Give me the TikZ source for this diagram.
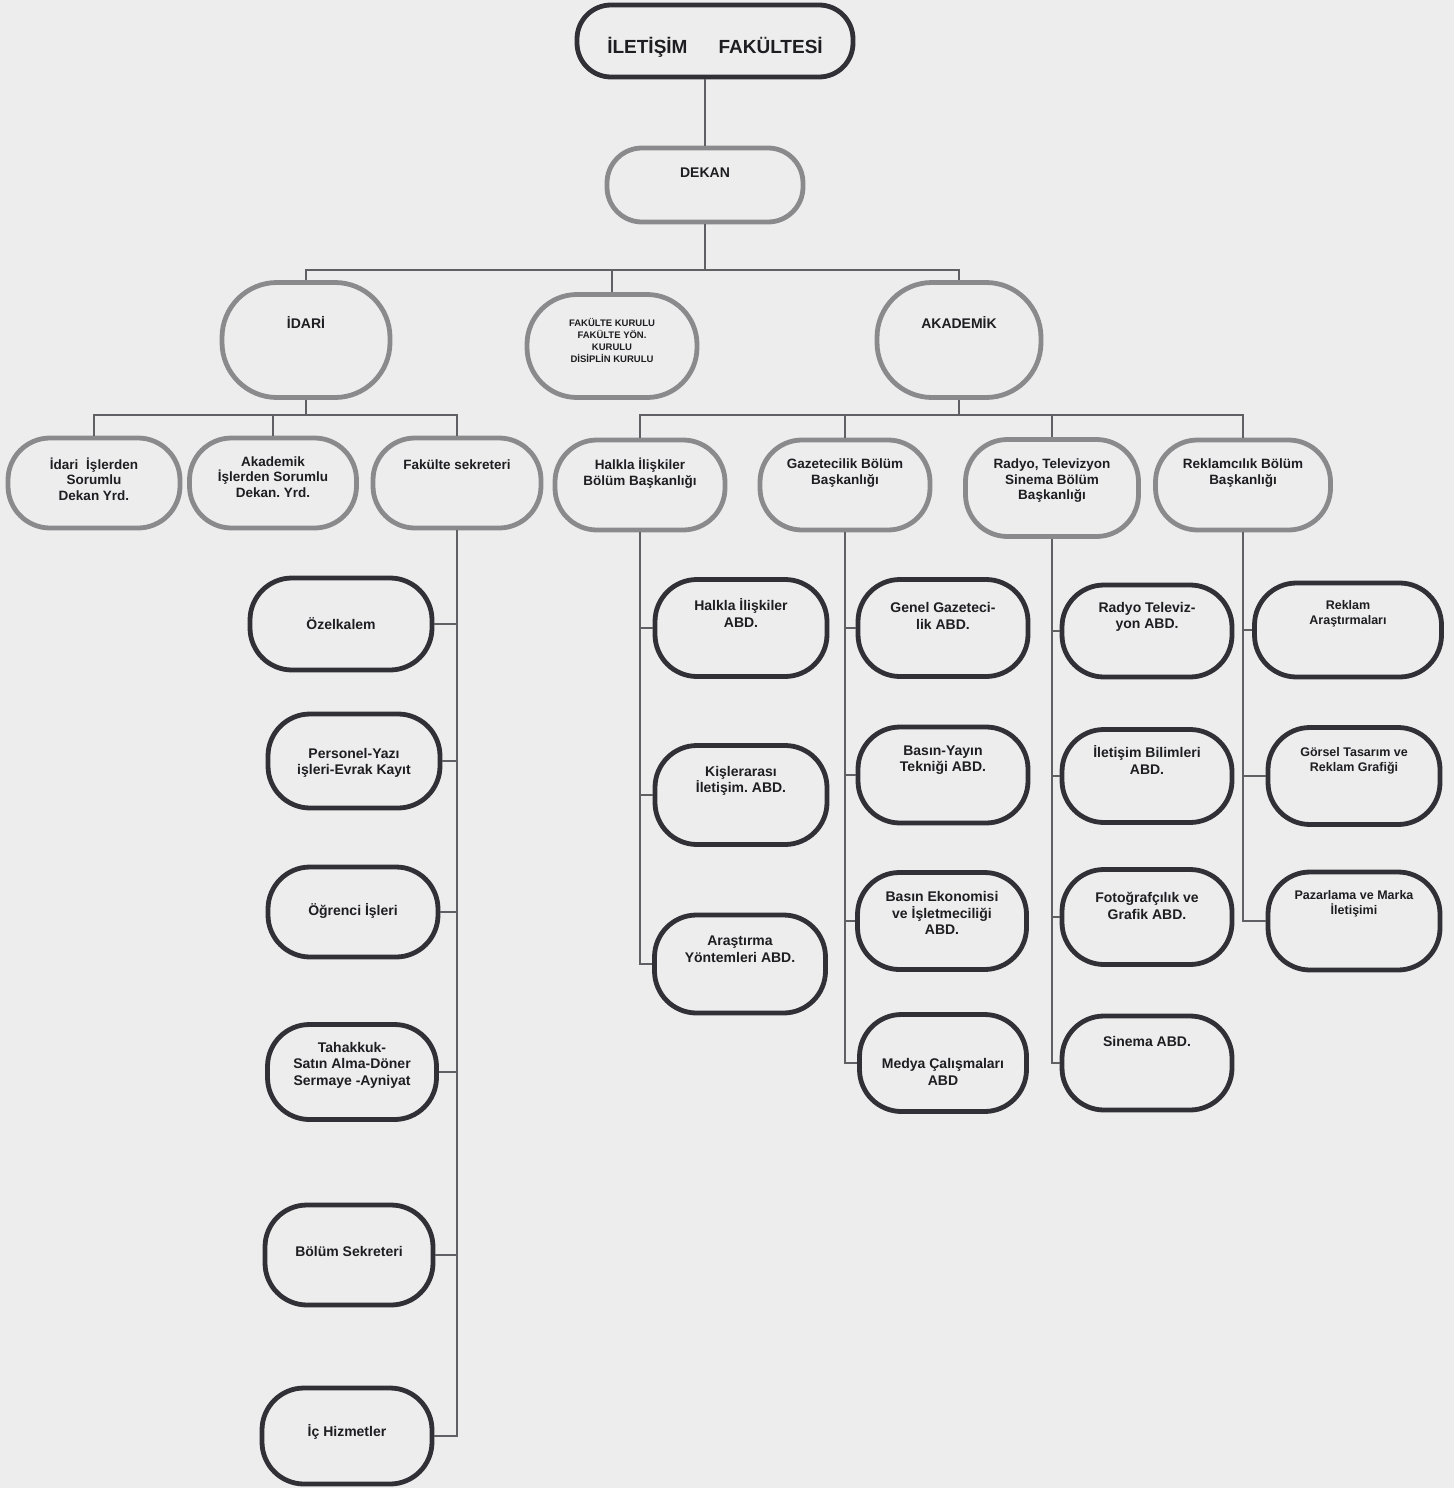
\documentclass[tikz,border=0pt]{standalone}
\usepackage{fontspec}
\setmainfont{Liberation Sans}
\frenchspacing
\definecolor{bgc}{RGB}{237,237,237}
\definecolor{dk}{RGB}{48,48,54}
\definecolor{gr}{RGB}{138,138,140}
\definecolor{ln}{RGB}{95,95,100}
\definecolor{tx}{RGB}{30,30,34}
\begin{document}
\begin{tikzpicture}[x=1pt,y=-1pt,
  box/.style={rounded corners=42pt, line width=4.8pt, inner sep=0pt},
  dbox/.style={box, draw=dk},
  gbox/.style={box, draw=gr},
  sz/.style n args={2}{minimum width=#1pt, minimum height=#2pt},
  txa/.style={align=center, text=tx, inner sep=0pt, font=\fontsize{14}{16.5}\selectfont\bfseries},
  txb/.style={txa, font=\fontsize{13.5}{15.5}\selectfont\bfseries},
  txr/.style={txa, font=\fontsize{12.5}{15}\selectfont\bfseries},
  txk/.style={txa, font=\fontsize{9.5}{12}\selectfont\bfseries},
  txt/.style={txa, font=\fontsize{19}{22}\selectfont\bfseries},
  con/.style={draw=ln, line width=1.4pt}
]
\fill[bgc] (0,0) rectangle (1454,1488);
\useasboundingbox (0,0) rectangle (1454,1488);

% top levels
\node[dbox, sz={276}{72}, rounded corners=34pt] (top) at (715,41) {};
\node[txt] (ttop) at (715,47) {İLETİŞİM\hspace{31pt}FAKÜLTESİ};
\node[gbox, sz={196}{74}, rounded corners=35pt] (dekan) at (705,185) {};
\node[txa] (tdekan) at (705,173) {DEKAN};

\node[gbox, sz={168}{115}, rounded corners=55pt] (idari) at (306,340) {};
\node[txa] (tidari) at (306,323) {İDARİ};
\node[gbox, sz={170}{103}, rounded corners=50pt] (kurul) at (612,346) {};
\node[txk] (tkurul) at (612,340) {FAKÜLTE KURULU\\FAKÜLTE YÖN.\\KURULU\\DİSİPLİN KURULU};
\node[gbox, sz={164}{115}, rounded corners=55pt] (akad) at (959,340) {};
\node[txa] (takad) at (959,323) {AKADEMİK};

% second row left
\node[gbox, sz={172}{90}] (yrd1) at (94,483) {};
\node[txb] (tyrd1) at (94,479) {İdari\hspace{4pt} İşlerden\\Sorumlu\\Dekan Yrd.};
\node[gbox, sz={167}{90}] (yrd2) at (273,483) {};
\node[txb] (tyrd2) at (273,477) {Akademik\\İşlerden Sorumlu\\Dekan. Yrd.};
\node[gbox, sz={168}{90}] (sekr) at (457,483) {};
\node[txb] (tsekr) at (457,465) {Fakülte sekreteri};

% second row right
\node[gbox, sz={170}{90}] (hb) at (640,485) {};
\node[txb] (thb) at (640,473) {Halkla İlişkiler\\Bölüm Başkanlığı};
\node[gbox, sz={170}{90}] (gb) at (845,485) {};
\node[txb] (tgb) at (845,473) {Gazetecilik Bölüm\\Başkanlığı};
\node[gbox, sz={173}{97}] (rb) at (1052,488) {};
\node[txb] (trb) at (1052,481) {Radyo, Televizyon\\Sinema Bölüm\\Başkanlığı};
\node[gbox, sz={175}{90}] (kb) at (1243,485) {};
\node[txb] (tkb) at (1243,473) {Reklamcılık Bölüm\\Başkanlığı};

% left column
\node[dbox, sz={182}{92}] (ozel) at (341,624) {};
\node[txa] (tozel) at (341,624) {Özelkalem};
\node[dbox, sz={172}{94}] (pers) at (354,761) {};
\node[txa] (tpers) at (354,763) {Personel-Yazı\\işleri-Evrak Kayıt};
\node[dbox, sz={170}{90}] (ogr) at (353,912) {};
\node[txa] (togr) at (353,911) {Öğrenci İşleri};
\node[dbox, sz={169}{95}] (tah) at (352,1072) {};
\node[txa] (ttah) at (352,1065) {Tahakkuk-\\Satın Alma-Döner\\Sermaye -Ayniyat};
\node[dbox, sz={168}{100}] (bsek) at (349,1255) {};
\node[txa] (tbsek) at (349,1251) {Bölüm Sekreteri};
\node[dbox, sz={170}{96}] (ich) at (347,1436) {};
\node[txa] (tich) at (347,1432) {İç Hizmetler};

% Halkla column
\node[dbox, sz={172}{97}] (h1) at (741,628) {};
\node[txa] (th1) at (741,613) {Halkla İlişkiler\\ABD.};
\node[dbox, sz={172}{99}] (h2) at (741,795) {};
\node[txa] (th2) at (741,781) {Kişlerarası\\İletişim. ABD.};
\node[dbox, sz={171}{98}] (h3) at (740,964) {};
\node[txa] (th3) at (740,949) {Araştırma\\Yöntemleri ABD.};

% Gazetecilik column
\node[dbox, sz={170}{97}] (g1) at (943,628) {};
\node[txa] (tg1) at (943,616) {Genel Gazeteci-\\lik ABD.};
\node[dbox, sz={170}{96}] (g2) at (943,775) {};
\node[txa] (tg2) at (943,760) {Basın-Yayın\\Tekniği ABD.};
\node[dbox, sz={169}{97}] (g3) at (942,921) {};
\node[txa] (tg3) at (942,913) {Basın Ekonomisi\\ve İşletmeciliği\\ABD.};
\node[dbox, sz={167}{97}] (g4) at (943,1063) {};
\node[txa] (tg4) at (943,1072) {Medya Çalışmaları\\ABD};

% Radyo column
\node[dbox, sz={170}{92}] (r1) at (1147,631) {};
\node[txa] (tr1) at (1147,617) {Radyo Televiz-\\yon ABD.};
\node[dbox, sz={170}{93}] (r2) at (1147,776) {};
\node[txa] (tr2) at (1147,760) {İletişim Bilimleri\\ABD.};
\node[dbox, sz={170}{95}] (r3) at (1147,917) {};
\node[txa] (tr3) at (1147,906) {Fotoğrafçılık ve\\Grafik ABD.};
\node[dbox, sz={170}{94}] (r4) at (1147,1063) {};
\node[txa] (tr4) at (1147,1041) {Sinema ABD.};

% Reklam column
\node[dbox, sz={187}{94}] (k1) at (1348,630) {};
\node[txr] (tk1) at (1348,614) {Reklam\\Araştırmaları};
\node[dbox, sz={172}{97}] (k2) at (1354,776) {};
\node[txr] (tk2) at (1354,761) {Görsel Tasarım ve\\Reklam Grafiği};
\node[dbox, sz={172}{98}] (k3) at (1354,921) {};
\node[txr] (tk3) at (1354,904) {Pazarlama ve Marka\\İletişimi};

% connectors
\draw[con] (dekan.north) -- (dekan.north |- top.south);
\coordinate (bus1) at (705,270);
\draw[con] (dekan.south) -- (bus1);
\draw[con] (idari.north) |- (bus1) -| (akad.north);
\draw[con] (kurul.north) -- (kurul.north |- bus1);

\coordinate (bus2) at (306,415);
\draw[con] (idari.south) -- (bus2);
\draw[con] (yrd1.north) |- (bus2) -| (sekr.north);
\draw[con] (yrd2.north) -- (yrd2.north |- bus2);

\coordinate (bus3) at (959,415);
\draw[con] (akad.south) -- (bus3);
\draw[con] (hb.north) |- (bus3) -| (kb.north);
\draw[con] (gb.north) -- (gb.north |- bus3);
\draw[con] (rb.north) -- (rb.north |- bus3);

\foreach \c in {ozel,pers,ogr,tah,bsek,ich} \draw[con] (sekr.south) |- (\c.east);
\foreach \c in {h1,h2,h3} \draw[con] (hb.south) |- (\c.west);
\foreach \c in {g1,g2,g3,g4} \draw[con] (gb.south) |- (\c.west);
\foreach \c in {r1,r2,r3,r4} \draw[con] (rb.south) |- (\c.west);
\foreach \c in {k1,k2,k3} \draw[con] (kb.south) |- (\c.west);
\end{tikzpicture}
\end{document}
